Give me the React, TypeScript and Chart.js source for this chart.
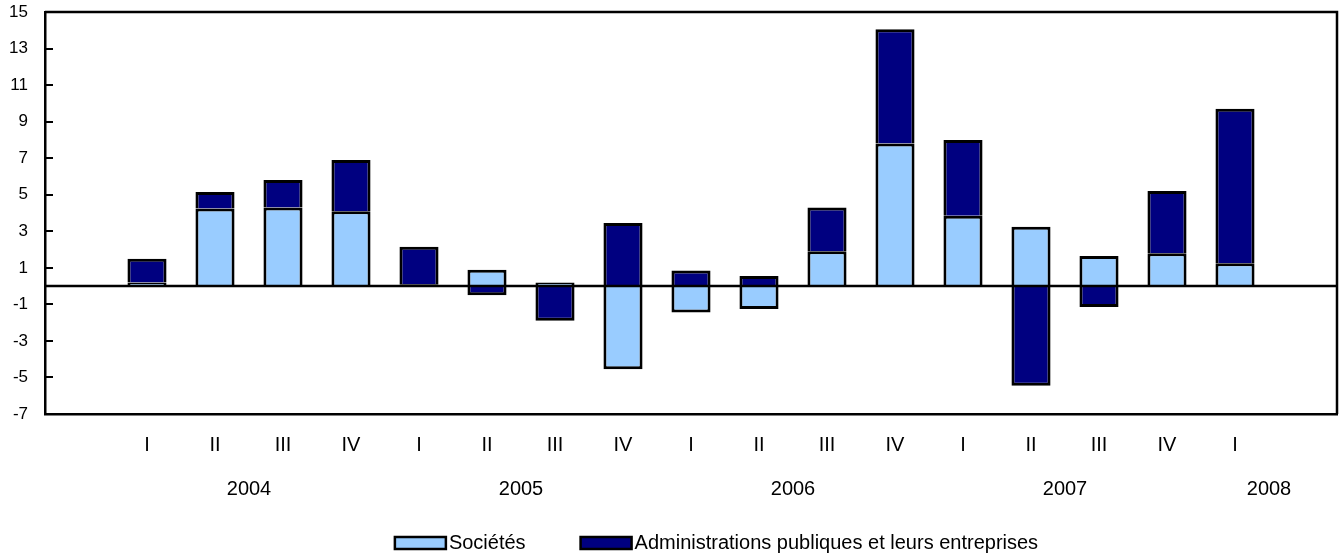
import React, { useEffect, useRef } from 'react';
import { Chart, registerables } from 'chart.js';

Chart.register(...registerables);

const categories = ['', 'I', 'II', 'III', 'IV', 'I', 'II', 'III', 'IV', 'I', 'II', 'III', 'IV', 'I', 'II', 'III', 'IV', 'I', ''];
const societes = [null, 0.2, 4.25, 4.3, 4.1, 0.1, 0.9, 0.2, -4.55, -1.45, -1.25, 1.9, 7.8, 3.85, 3.25, 1.65, 1.8, 1.25, null];
const administrations = [null, 1.3, 0.9, 1.5, 2.8, 2.05, -0.5, -1.9, 3.45, 0.85, 0.55, 2.4, 6.25, 4.15, -5.45, -1.15, 3.4, 8.45, null];
const years = ['2004', '2005', '2006', '2007', '2008'];
const yearFirstIndex = [1, 5, 9, 13, 17];
const yearLastIndex = [4, 8, 12, 16, 18];
const seriesLabels = ['Sociétés', 'Administrations publiques et leurs entreprises'];
const yMin = -7;
const yMax = 15;
const yStep = 2;

const FONT = '"Liberation Sans", Arial, Helvetica, sans-serif';
const LIGHT = '#99CCFF';
const DARK = '#000080';

const decorPlugin = {
  id: 'decor',
  afterDatasetsDraw(chart: any) {
    const { ctx, chartArea: a, scales } = chart;
    const x = scales.x;
    const y = scales.y;
    ctx.save();
    ctx.strokeStyle = '#000';
    ctx.lineWidth = 2.5;
    // zero line
    const y0 = y.getPixelForValue(0);
    ctx.beginPath();
    ctx.moveTo(a.left, y0);
    ctx.lineTo(a.right, y0);
    ctx.stroke();
    // top and right frame
    ctx.beginPath();
    ctx.moveTo(a.left, a.top);
    ctx.lineTo(a.right, a.top);
    ctx.lineTo(a.right, a.bottom);
    ctx.stroke();
    // inside tick marks
    ctx.lineWidth = 2;
    y.ticks.forEach((t: any) => {
      const py = Math.round(y.getPixelForValue(t.value));
      ctx.beginPath();
      ctx.moveTo(a.left, py);
      ctx.lineTo(a.left + 8, py);
      ctx.stroke();
    });
    // year labels
    ctx.fillStyle = '#000';
    ctx.font = `20px ${FONT}`;
    ctx.textAlign = 'center';
    ctx.textBaseline = 'middle';
    years.forEach((yr, i) => {
      const px = (x.getPixelForValue(yearFirstIndex[i]) + x.getPixelForValue(yearLastIndex[i])) / 2;
      ctx.fillText(yr, px, a.bottom + 75);
    });
    ctx.restore();
  },
  afterDraw(chart: any) {
    const { ctx } = chart;
    ctx.save();
    ctx.font = `20px ${FONT}`;
    ctx.textBaseline = 'middle';
    ctx.textAlign = 'left';
    const boxW = 51;
    const boxH = 12;
    const gapText = 3;
    const gapItem = 55;
    const items = chart.data.datasets.map((ds: any) => ({ label: ds.label, fill: ds.backgroundColor }));
    const widths = items.map((it: any) => boxW + gapText + ctx.measureText(it.label).width);
    const total = widths.reduce((s: number, w: number) => s + w, 0) + gapItem * (items.length - 1);
    let cx = chart.width / 2 + 47 - total / 2;
    const cy = 543;
    items.forEach((it: any, i: number) => {
      ctx.fillStyle = it.fill;
      ctx.fillRect(cx, cy - boxH / 2, boxW, boxH);
      ctx.strokeStyle = '#000';
      ctx.lineWidth = 2.5;
      ctx.strokeRect(cx, cy - boxH / 2, boxW, boxH);
      ctx.fillStyle = '#000';
      ctx.fillText(it.label, cx + boxW + gapText, cy);
      cx += widths[i] + gapItem;
    });
    ctx.restore();
  },
};

export default function App() {
  const canvasRef = useRef<HTMLCanvasElement | null>(null);

  useEffect(() => {
    if (!canvasRef.current) return;
    const chart = new Chart(canvasRef.current, {
      type: 'bar',
      data: {
        labels: categories,
        datasets: [
          {
            label: seriesLabels[0],
            data: societes,
            backgroundColor: LIGHT,
            borderColor: '#000',
            borderWidth: 3,
            barPercentage: 1,
            categoryPercentage: 0.575,
          },
          {
            label: seriesLabels[1],
            data: administrations,
            backgroundColor: DARK,
            borderColor: '#000',
            borderWidth: 3,
            barPercentage: 1,
            categoryPercentage: 0.575,
          },
        ],
      },
      options: {
        responsive: false,
        animation: false,
        layout: { padding: { left: 0, top: 12, right: 2, bottom: 0 } },
        plugins: {
          legend: { display: false },
          tooltip: { enabled: false },
        },
        scales: {
          x: {
            stacked: true,
            grid: { display: false, drawTicks: false },
            border: { display: true, color: '#000', width: 2.5 },
            ticks: {
              color: '#000',
              font: { family: FONT, size: 20 },
              padding: 19,
              autoSkip: false,
              maxRotation: 0,
            },
            afterFit: (s: any) => {
              s.height = 143;
            },
          },
          y: {
            stacked: true,
            min: yMin,
            max: yMax,
            grid: { display: false, drawTicks: false },
            border: { display: true, color: '#000', width: 2.5 },
            ticks: {
              stepSize: yStep,
              color: '#000',
              font: { family: FONT, size: 17 },
              padding: 17,
            },
            afterFit: (s: any) => {
              s.width = 45;
              s.paddingTop = 0;
              s.paddingBottom = 0;
            },
          },
        },
      },
      plugins: [decorPlugin],
    });
    return () => chart.destroy();
  }, []);

  return (
    <div style={{ position: 'absolute', left: 0, top: 0, width: 1339, height: 557, background: '#fff' }}>
      <canvas ref={canvasRef} width={1339} height={557} style={{ display: 'block' }} />
    </div>
  );
}
